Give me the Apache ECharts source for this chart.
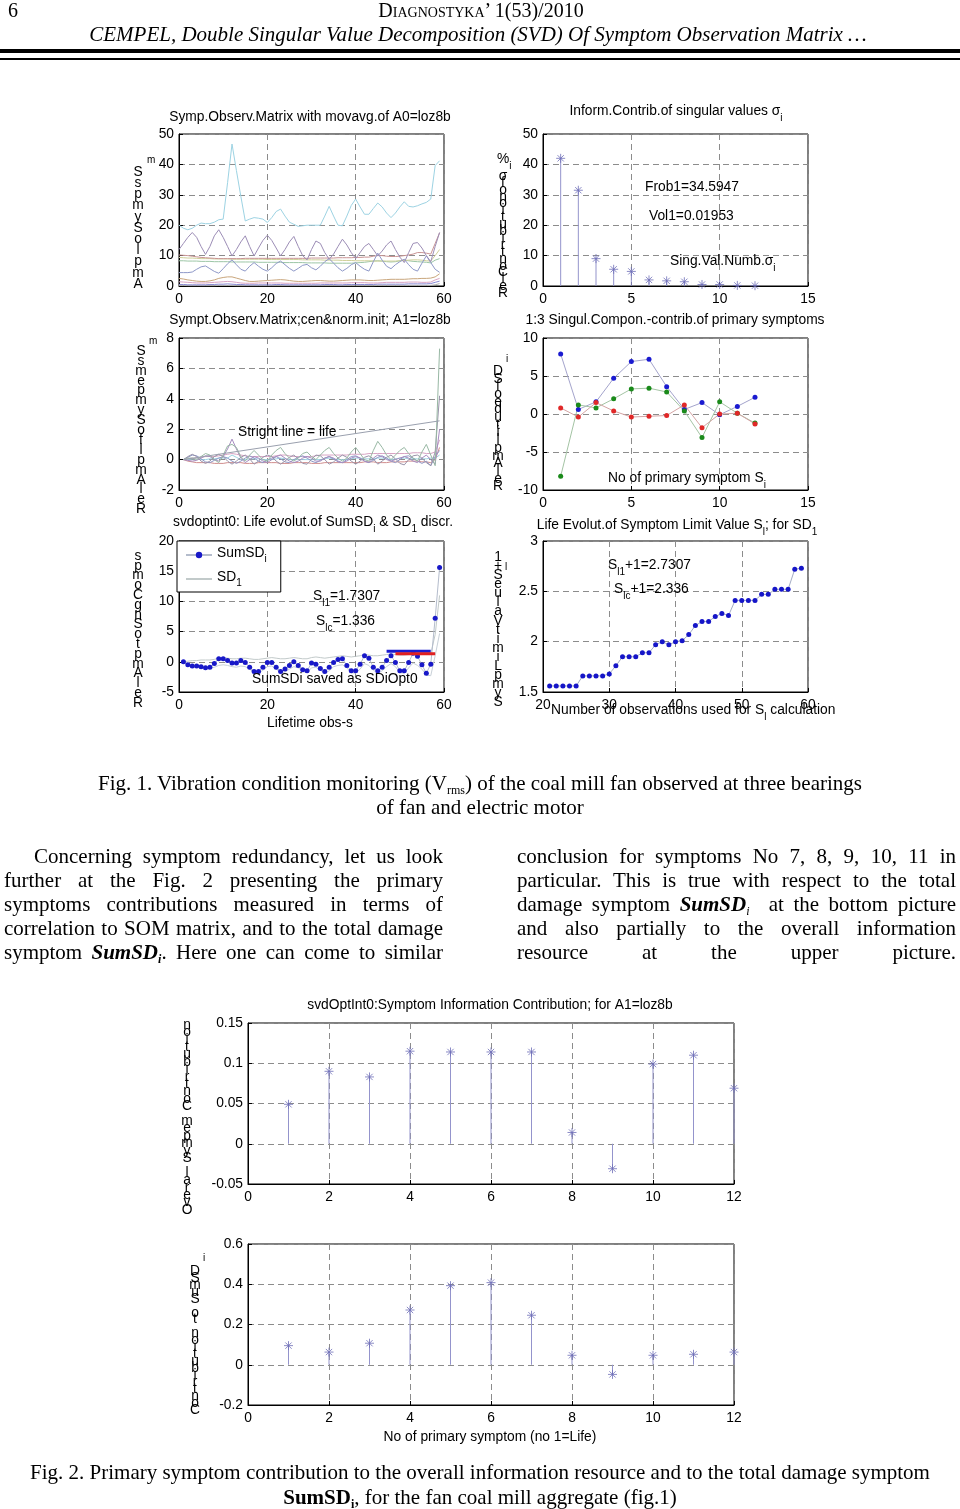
<!DOCTYPE html>
<html>
<head>
<meta charset="utf-8">
<script src="https://cdn.jsdelivr.net/npm/echarts@6/dist/echarts.min.js"></script>
<style>
  body { margin: 0; background: #fff; }
  #page { position: relative; width: 960px; height: 1509px; overflow: hidden; background: #fff; }
  #chart { position: absolute; left: 0; top: 0; width: 960px; height: 1509px; }
  .t { position: absolute; font-family: "Liberation Serif", "Times New Roman", serif; color: #000; z-index: 2; font-size: 21px; line-height: 24px; white-space: nowrap; }
  .c { text-align: center; }
  .j { text-align: justify; text-align-last: justify; white-space: normal; }
  sub { font-size: 12px; line-height: 0; vertical-align: -4px; }
  .rule { position: absolute; left: 0; width: 960px; background: #000; z-index: 2; }
</style>
</head>
<body>
<div id="page">
  <div id="chart"></div>

  <div class="t" style="left:8px;top:-2px;font-size:20px;">6</div>
  <div class="t c" style="left:0;width:962px;top:-2px;font-size:20px;font-variant:small-caps;">Diagnostyka’ 1(53)/2010</div>
  <div class="t c" style="left:0;width:956px;top:22px;font-style:italic;">CEMPEL, Double Singular Value Decomposition (SVD) Of Symptom Observation Matrix …</div>
  <div class="rule" style="top:49px;height:4px;"></div>
  <div class="rule" style="top:58px;height:2px;"></div>

  <div class="t c" style="left:0;width:960px;top:771px;">Fig. 1. Vibration condition monitoring (V<sub>rms</sub>) of the coal mill fan observed at three bearings</div>
  <div class="t c" style="left:0;width:960px;top:795px;">of fan and electric motor</div>

  <div class="t j" style="left:34px;width:409px;top:844px;">Concerning symptom redundancy, let us look</div>
  <div class="t j" style="left:4px;width:439px;top:868px;">further at the Fig. 2 presenting the primary</div>
  <div class="t j" style="left:4px;width:439px;top:892px;">symptoms contributions measured in terms of</div>
  <div class="t j" style="left:4px;width:439px;top:916px;">correlation to SOM matrix, and to the total damage</div>
  <div class="t j" style="left:4px;width:439px;top:940px;">symptom <b><i>SumSD<sub>i</sub></i></b>. Here one can come to similar</div>

  <div class="t j" style="left:517px;width:439px;top:844px;">conclusion for symptoms No 7, 8, 9, 10, 11 in</div>
  <div class="t j" style="left:517px;width:439px;top:868px;">particular. This is true with respect to the total</div>
  <div class="t j" style="left:517px;width:439px;top:892px;">damage symptom <b><i>SumSD</i></b><sub><i>i</i></sub>&nbsp; at the bottom picture</div>
  <div class="t j" style="left:517px;width:439px;top:916px;">and also partially to the overall information</div>
  <div class="t j" style="left:517px;width:439px;top:940px;">resource at the upper picture.</div>

  <div class="t c" style="left:0;width:960px;top:1460px;">Fig. 2. Primary symptom contribution to the overall information resource and to the total damage symptom</div>
  <div class="t c" style="left:0;width:960px;top:1485px;"><b>SumSD<sub>i</sub></b>, for the fan coal mill aggregate (fig.1)</div>
</div>

<script>
// ---- Fig.1 top-left: symptom observation matrix with moving average (obs 0..59)
const tlCyan   = [20,19,18.5,19,20,20.7,20.5,20.5,21,21.8, 22,34,46.7,38,29.5,21.4,22,22.5,22.3,22, 20.9,22.5,24.5,25.3,23,21,20.3,19.6,19.8,20, 20,20,20,23,26.2,23,20,19.8,23,26.5, 28.6,26,23.6,23.6,25.5,27.3,26,24,22.5,24, 26,27.7,26.2,26,26.4,27,27.5,28.6,39.6,41.2];
const tlPurple = [12,14,16,17.6,16,13,10.4,13,16.5,18.5, 16,13,9.9,12,14.5,16.5,13,9.9,12.5,15, 16.7,15,12.5,9.9,12,14.5,16.3,13,10,8.6, 12,14.8,14,11,8.8,10.5,13,15.4,13.5,11, 9,11,13,14,12,9.9,11.5,13.5,14.8,12, 9.5,7.7,11,14,14.3,12.5,10,8,13,17.6];
const tlBlue   = [4.4,4.4,4.4,4.6,5.5,6.3,6.6,5.7,4.8,4.2, 5.7,7.3,8.6,7,5.5,4.9,6.5,7.7,6.5,5.5, 4.9,6,7.4,8.2,7,5.8,4.9,5.8,6.8,7.1, 6,5.3,6.5,8,9,7.5,6,4.9,5.8,7, 7.7,6.5,5.5,4.9,8,10.8,8.5,6.5,5.7,7, 8,8.8,7,5.5,4.9,7.5,9.9,7.7,5.5,4.5];
const tlRed    = [10.2,10.1,10,9.8,9.6,9.4,9.3,9.2,9.1,9, 9,9,9,9,9,9.1,9.1,9.1,9.1,9.1, 9.1,9.1,9.1,9.1,9.1,9.1,9.1,9.1,9.1,9.1, 9.2,9.2,9.2,9.2,9.2,9.2,9.3,9.3,9.3,9.3, 9.4,9.4,9.5,9.5,9.8,10,10,9.8,9.7,9.7, 9.8,10,10.2,10.5,11,11,10.8,10.5,14,17.5];
const tlOlive  = [9.4,9.3,9.2,9.2,9.1,9,9,9,8.9,8.9, 8.9,8.9,8.8,8.8,8.8,8.8,8.8,8.8,8.8,8.8, 8.7,8.7,8.7,8.7,8.7,8.7,8.7,8.7,8.6,8.6, 8.6,8.6,8.6,8.5,8.5,8.5,8.5,8.4,8.4,8.4, 8.3,8.3,8.3,8.3,8.2,8.2,8.2,8.2,8.2,8.2, 8.3,8.4,8.5,8.6,8.6,8.5,8.3,8.2,10,12];
const tlGreen  = [8.3,8.3,8.2,8.2,8.2,8.1,8.1,8.1,8,8, 8,8,7.9,7.9,7.9,7.9,7.9,7.9,7.8,7.8, 7.8,7.8,7.8,7.8,7.7,7.7,7.7,7.7,7.7,7.6, 7.6,7.6,7.6,7.6,7.5,7.5,7.5,7.5,7.5,7.5, 7.6,7.7,7.8,8,8.2,8.3,8.2,8,7.9,8, 8.3,8.5,8.3,8.1,8,7.9,7.8,7.6,8.5,9];
const tlBrown  = [2.5,2.3,2,1.8,1.6,1.5,1.5,1.7,2,2.5, 2.8,3,3,2.6,2.2,1.8,1.5,1.5,1.6,1.7, 1.8,1.9,2,2.1,2,1.8,1.6,1.5,1.5,1.6, 1.7,1.8,1.8,1.7,1.6,1.6,1.7,1.8,1.9,2, 2,2,1.9,1.8,1.8,1.9,2,2.1,2.2,2.2, 2.2,2.2,2.3,2.4,2.4,2.5,2.5,2.6,3,4];
const tlPink   = [1.4,1.3,1.2,1.1,1,1,1,1.1,1.2,1.3, 1.4,1.5,1.4,1.2,1,0.9,0.9,0.9,1,1, 1,1,1,1,0.9,0.9,0.9,0.9,0.9,0.9, 0.9,0.9,1,1,1,1,1,1,1,1.1, 1.1,1.1,1.1,1,1,1,1.1,1.2,1.2,1.2, 1.2,1.2,1.3,1.3,1.3,1.2,1.2,1.3,2,2.5];
const tlNavy   = [0.5,0.5,0.4,0.4,0.4,0.4,0.4,0.5,0.5,0.6, 0.6,0.7,0.6,0.5,0.5,0.4,0.4,0.4,0.4,0.4, 0.4,0.4,0.5,0.5,0.4,0.4,0.4,0.4,0.4,0.4, 0.4,0.4,0.4,0.5,0.5,0.5,0.4,0.4,0.5,0.5, 0.5,0.5,0.5,0.5,0.5,0.6,0.6,0.6,0.6,0.6, 0.6,0.6,0.7,0.7,0.7,0.7,0.7,0.8,1.2,1.6];
const tlGray   = [0.2,0.2,0.1,0.1,0.1,0.1,0.1,0.1,0.1,0.2, 0.2,0.2,0.2,0.1,0.1,0.1,0.1,0.1,0.1,0.1, 0.1,0.1,0.1,0.1,0.1,0.1,0.1,0.1,0.1,0.1, 0.1,0.1,0.1,0.1,0.1,0.1,0.1,0.1,0.1,0.1, 0.1,0.1,0.1,0.1,0.1,0.2,0.2,0.2,0.2,0.2, 0.2,0.2,0.2,0.2,0.2,0.2,0.2,0.2,0.4,0.8];

// ---- Fig.1 middle-left: centred & normalised matrix (obs 1..59)
const lifeX = [1, 59];
const lifeY = [0, 2.55];
const mlGreen  = [0,0.1,0.1,0,0.2,0.4,0.3,0,-0.2,0.3, 0.9,1.0,0.8,0.2,-0.1,0.3,0.6,0.3,0,-0.1, 0.3,0.6,0.8,0.4,0.1,-0.1,0.1,0.4,0.5,0.2, 0,0.3,0.6,0.8,0.4,0.1,-0.1,0.1,0.5,0.8, 0.4,0,-0.1,0.6,1.2,0.8,0.3,0,0.3,0.6, 0.8,0.4,0.1,-0.1,0.5,1.0,0.3,-0.4,7.3];
const mlGrayP  = [0,0.2,0.35,0.2,-0.1,-0.25,-0.1,0.2,0.35,0.2, -0.1,-0.3,-0.1,0.15,0.3,0.05,-0.3,-0.1,0.15,0.3, 0.2,-0.1,-0.3,-0.1,0.15,0.3,0.05,-0.25,-0.3,0, 0.3,0.25,0,-0.3,-0.15,0.1,0.3,0.15,-0.1,-0.3, -0.1,0.15,0.25,0.05,-0.3,-0.1,0.15,0.3,0.05,-0.25, -0.35,0,0.25,0.3,0.1,-0.2,-0.4,0.5,4.2];
const mlPurple = [0,-0.05,-0.1,-0.05,0.1,0.25,0.2,0,-0.1,0.2, 0.7,1.35,0.7,0.1,-0.2,0,0.2,0.1,-0.1,-0.2, 0,0.2,0.3,0.1,-0.1,-0.2,-0.1,0.1,0.2,0.1, -0.1,-0.1,0.1,0.2,0.1,-0.1,-0.2,-0.1,0.1,0.2, 0.1,-0.1,-0.2,0.1,0.3,0.2,0,-0.1,0,0.1, 0.2,0.1,-0.1,-0.2,0.1,0.3,0,-0.3,2.0];
const mlPink   = [0,0.05,0.1,0.1,0.15,0.2,0.2,0.2,0.25,0.3, 0.35,0.4,0.35,0.3,0.25,0.2,0.2,0.2,0.2,0.2, 0.2,0.25,0.3,0.3,0.25,0.2,0.2,0.2,0.2,0.2, 0.25,0.3,0.3,0.3,0.3,0.3,0.3,0.3,0.35,0.35, 0.35,0.35,0.4,0.4,0.4,0.4,0.4,0.4,0.4,0.4, 0.4,0.4,0.45,0.45,0.45,0.4,0.4,0.5,1.3];
const mlRed    = [0,-0.1,-0.15,-0.2,-0.2,-0.2,-0.2,-0.25,-0.25,-0.25, -0.2,-0.2,-0.2,-0.2,-0.25,-0.25,-0.25,-0.2,-0.2,-0.2, -0.2,-0.2,-0.25,-0.25,-0.25,-0.2,-0.2,-0.2,-0.2,-0.25, -0.25,-0.25,-0.2,-0.2,-0.2,-0.2,-0.2,-0.2,-0.2,-0.2, -0.2,-0.15,-0.15,-0.15,-0.2,-0.2,-0.2,-0.15,-0.15,-0.15, -0.15,-0.1,-0.1,-0.1,-0.15,-0.15,-0.2,0,0.8];
const mlBlue   = [0,0.15,0.3,0.25,0.05,-0.15,-0.2,-0.05,0.1,0.2, 0.1,-0.1,-0.25,-0.1,0.1,0.25,0.1,-0.1,-0.2,-0.05, 0.1,0.2,0.05,-0.15,-0.2,0,0.15,0.25,0.1,-0.1, -0.2,-0.05,0.1,0.2,0.05,-0.15,-0.2,0,0.2,0.25, 0.1,-0.1,-0.2,-0.05,0.15,0.25,0.1,-0.1,-0.2,0, 0.2,0.25,0.1,-0.1,-0.25,-0.1,-0.4,0.2,0.6];
const mlCyan   = [0,0,0.05,0.05,0,0,0.05,0.05,0.1,0.1, 0.1,0.3,0.15,0,0,0.05,0.05,0.05,0,0, 0,0.05,0.1,0.05,0,0,0,0,0,0, 0,0,0.05,0.1,0.05,0,0,0,0.05,0.1, 0.1,0.05,0.05,0.05,0.1,0.1,0.05,0,0.05,0.1, 0.1,0.05,0.05,0.05,0.05,0.05,0.1,0.1,0.3];

// ---- Fig.1 top-right: information contribution of singular values [%]
const svNo  = [1,2,3,4,5,6,7,8,9,10,11,12];
const svPct = [42,31.5,9,5.5,4.8,2,1.7,1.4,0.5,0.5,0.2,0.1];

// ---- Fig.1 middle-right: 1:3 singular components vs primary symptom
const symNo = [1,2,3,4,5,6,7,8,9,10,11,12];
const sc1 = [7.9,0.6,1.6,4.7,6.9,7.2,3.6,0.6,1.5,-0.1,1.0,2.2];
const sc2 = [-8.2,1.2,0.8,2.0,3.3,3.4,2.9,0.4,-3.1,1.6,0.1,-1.2];
const sc3 = [0.8,-0.4,1.5,0.4,-0.4,-0.3,-0.2,1.2,-1.8,0.0,0.1,-1.3];

// ---- Fig.1 bottom-left: SumSD_i and SD_1 over lifetime (obs 1..59)
const sumSD = [0,-0.5,-0.7,-0.7,-0.8,-1.0,-0.9,-0.3,0.5,0.5, 0.2,-0.2,-0.2,0.2,-0.1,-0.9,-1.6,-1.6,-0.9,-0.1, -0.1,-0.9,-1.6,-1.2,-0.6,0,-0.6,-1.3,-1.5,-0.2, -0.4,-1.1,-1.6,-0.9,-0.1,0.4,0.5,-0.6,-1.5,-1.5, -0.4,1.0,0.6,-0.9,-1.5,-0.9,0.2,1.0,-0.1,-1.5, -1.5,-0.1,1.4,0.9,-0.5,-1.9,-0.4,7.2,15.6];
const sd1   = [0,0.1,0.2,0.2,0.3,0.3,0.3,0.4,0.6,0.7, 0.6,0.5,0.5,0.6,0.6,0.5,0.4,0.4,0.5,0.6, 0.7,0.6,0.5,0.5,0.6,0.7,0.6,0.5,0.5,0.7, 0.8,0.7,0.6,0.7,0.8,0.9,1.0,0.9,0.8,0.9, 1.0,1.2,1.1,1.0,1.0,1.1,1.2,1.3,1.2,1.1, 1.1,1.2,1.4,1.4,1.3,1.2,1.3,4.5,11.0];
const sdLow = [0,-0.3,-0.6,-0.8,-0.9,-1.0,-1.1,-0.9,-0.6,-0.5, -0.6,-0.8,-0.9,-0.7,-0.8,-1.2,-1.8,-1.9,-1.4,-0.8, -0.7,-1.2,-1.8,-1.7,-1.2,-0.8,-1.0,-1.6,-1.8,-1.0, -0.9,-1.4,-1.9,-1.5,-0.8,-0.6,-0.5,-1.0,-1.8,-1.9, -1.2,-0.3,-0.6,-1.4,-1.9,-1.5,-0.8,-0.3,-0.8,-1.8, -1.9,-1.0,-0.2,-0.6,-1.2,-2.2,-2.3,1.0,4.7];
const sl1X = [47, 57], sl1 = 1.7307;
const slcX = [49, 58], slc = 1.336;

// ---- Fig.1 bottom-right: symptom limit value S_l + 1
const nObs = [21,22,23,24,25,26,27,28,29,30,31,32,33,34,35,36,37,38,39,40,41,42,43,44,45,46,47,48,49,50,51,52,53,54,55,56,57,58,59];
const slPlus1 = [1.56,1.56,1.56,1.56,1.56, 1.66,1.66,1.66,1.66, 1.68, 1.76, 1.85,1.85,1.85, 1.89,1.89, 1.97,2.0,1.97,2.0,2.01,2.07,2.16,2.2,2.2,2.25,2.28,2.26, 2.41,2.41,2.41,2.41, 2.47,2.47, 2.52,2.52,2.52, 2.72,2.73];

// ---- Fig.2: primary symptom contributions
const infoContrib  = [0.049,0.09,0.083,0.115,0.114,0.114,0.114,0.014,-0.031,0.099,0.11,0.069];
const sumSDContrib = [0.095,0.063,0.107,0.272,0.393,0.408,0.246,0.047,-0.048,0.047,0.052,0.063];

const FONT = '"Liberation Sans", Arial, Helvetica, sans-serif';
const FS = 13.8;
const STAR = 'path://M5,0L5,10M0,5L10,5M1.5,1.5L8.5,8.5M1.5,8.5L8.5,1.5';

const grids = [
  { left: 179, top: 134, width: 265, height: 152 },
  { left: 543, top: 134, width: 265, height: 152 },
  { left: 179, top: 338, width: 265, height: 152 },
  { left: 543, top: 338, width: 265, height: 152 },
  { left: 179, top: 541, width: 265, height: 151 },
  { left: 543, top: 541, width: 265, height: 151 },
  { left: 248, top: 1023, width: 486, height: 161 },
  { left: 248, top: 1244, width: 486, height: 161 }
].map(g => Object.assign({ show: true, borderColor: '#000', borderWidth: 1, backgroundColor: '#fff', containLabel: false, outerBoundsMode: 'none' }, g));

// [xmin, xmax, xint, ymin, ymax, yint]
const ranges = [
  [0, 60, 20, 0, 50, 10],
  [0, 15, 5, 0, 50, 10],
  [0, 60, 20, -2, 8, 2],
  [0, 15, 5, -10, 10, 5],
  [0, 60, 20, -5, 20, 5],
  [20, 60, 10, 1.5, 3, 0.5],
  [0, 12, 2, -0.05, 0.15, 0.05],
  [0, 12, 2, -0.2, 0.6, 0.2]
];

function axis(gi, min, max, interval, isX) {
  return {
    gridIndex: gi, type: 'value', min: min, max: max, interval: interval,
    axisLine: { show: true, onZero: false, lineStyle: { color: '#000', width: 1 } },
    axisTick: { show: true, inside: true, length: 4, lineStyle: { color: '#000' } },
    axisLabel: { color: '#000', fontSize: FS, fontFamily: FONT, margin: isX ? 6 : 5, showMinLabel: true, showMaxLabel: true, hideOverlap: false },
    splitLine: { show: true, lineStyle: { color: '#8c8c8c', width: 1, type: [6, 4] } }
  };
}
const xAxes = ranges.map((r, i) => axis(i, r[0], r[1], r[2], true));
const yAxes = ranges.map((r, i) => axis(i, r[3], r[4], r[5], false));

function line(gi, ys, x0, color, extra) {
  return Object.assign({
    type: 'line', xAxisIndex: gi, yAxisIndex: gi,
    data: ys.map((v, i) => [x0 + i, v]),
    symbol: 'none', lineStyle: { color: color, width: 1 }, itemStyle: { color: color },
    silent: true, animation: false
  }, extra || {});
}
function pts(gi, xs, ys, lineColor, dotColor, size, name) {
  return {
    type: 'line', name: name, xAxisIndex: gi, yAxisIndex: gi,
    data: ys.map((v, i) => [xs[i], v]),
    symbol: 'circle', symbolSize: size, showSymbol: true,
    lineStyle: { color: lineColor, width: 1 }, itemStyle: { color: dotColor },
    silent: true, animation: false, z: 3
  };
}
function stems(gi, xs, ys) {
  const data = ys.map((v, i) => [xs[i], v]);
  return [
    { type: 'bar', xAxisIndex: gi, yAxisIndex: gi, data: data, barWidth: 1, itemStyle: { color: '#9494cc' }, silent: true, animation: false },
    { type: 'scatter', xAxisIndex: gi, yAxisIndex: gi, data: data, symbol: STAR, symbolSize: 9,
      itemStyle: { color: 'rgba(0,0,0,0)', borderColor: '#6e6eb8', borderWidth: 1 }, silent: true, animation: false, z: 4 }
  ];
}
function hline(gi, xs, y, color) {
  return { type: 'line', xAxisIndex: gi, yAxisIndex: gi, data: [[xs[0], y], [xs[1], y]], symbol: 'none',
    lineStyle: { color: color, width: 3 }, silent: true, animation: false, z: 5 };
}

const series = [
  // top-left
  line(0, tlGray, 0, '#b0b0b0'), line(0, tlNavy, 0, '#8a8ad4'), line(0, tlPink, 0, '#d8a4c4'),
  line(0, tlBrown, 0, '#c9a67c'), line(0, tlGreen, 0, '#9cc6a6'), line(0, tlOlive, 0, '#cfcf98'),
  line(0, tlRed, 0, '#c99494'), line(0, tlBlue, 0, '#8e98c8'), line(0, tlPurple, 0, '#9c8db6'),
  line(0, tlCyan, 0, '#9dd3e3'),
  // top-right
  ...stems(1, svNo, svPct),
  // middle-left
  line(2, mlCyan, 1, '#9dd3e3'), line(2, mlRed, 1, '#d08c8c'), line(2, mlPink, 1, '#d8a4c4'),
  line(2, mlBlue, 1, '#8e98c8'), line(2, mlPurple, 1, '#a68cc0'), line(2, mlGrayP, 1, '#9a94aa'),
  line(2, mlGreen, 1, '#98b8a4'),
  { type: 'line', xAxisIndex: 2, yAxisIndex: 2, data: lifeX.map((x, i) => [x, lifeY[i]]), symbol: 'none',
    lineStyle: { color: '#9aa0ae', width: 1 }, silent: true, animation: false },
  // middle-right
  pts(3, symNo, sc1, '#a4a4cc', '#1a1ad0', 5),
  pts(3, symNo, sc2, '#a4c4a4', '#1a8a1a', 5),
  pts(3, symNo, sc3, '#d4a4a4', '#e02828', 5),
  // bottom-left
  line(4, sdLow, 1, '#c8d0d8'),
  line(4, sd1, 1, '#c2caca', { name: 'SD1' }),
  pts(4, sumSD.map((v, i) => i + 1), sumSD, '#b4bccc', '#1818c8', 5, 'SumSD'),
  hline(4, sl1X, sl1, '#1a1ad0'),
  hline(4, slcX, slc, '#e02020'),
  // bottom-right
  pts(5, nObs, slPlus1, '#a4acc4', '#1515c8', 5),
  // Fig.2
  ...stems(6, symNo, infoContrib),
  ...stems(7, symNo, sumSDContrib)
];

// main text top-aligned, subscripts bottom-aligned in a taller line
const RICH = {
  m: { fontSize: FS, lineHeight: 16, verticalAlign: 'top', fontFamily: FONT, fill: '#000', color: '#000' },
  s: { fontSize: 10, lineHeight: 19, verticalAlign: 'bottom', fontFamily: FONT, fill: '#000', color: '#000' },
  p: { fontSize: 10, lineHeight: 8, verticalAlign: 'top', fontFamily: FONT, fill: '#000', color: '#000' }
};
function txt(x, y, text, align) {
  return { type: 'text', x: x, y: y - 8, z: 100, silent: true,
    style: { text: text, fill: '#000', fontSize: FS, fontFamily: FONT,
      align: align || 'left', textAlign: align || 'left', verticalAlign: 'top', textVerticalAlign: 'top', rich: RICH } };
}
function stack(x, yFirst, chars, step) {
  return { type: 'text', x: x, y: yFirst - step / 2, z: 100, silent: true,
    style: { text: chars.join('\n'), fill: '#000', fontSize: FS, fontFamily: FONT, lineHeight: step,
      align: 'center', textAlign: 'center', verticalAlign: 'top', textVerticalAlign: 'top' } };
}

const graphics = [
  // titles
  txt(310, 118, '{m|Symp.Observ.Matrix with movavg.of A0=loz8b}', 'center'),
  txt(676, 112, '{m|Inform.Contrib.of singular values σ}{s|i}', 'center'),
  txt(310, 321, '{m|Sympt.Observ.Matrix;cen&norm.init; A1=loz8b}', 'center'),
  txt(675, 321, '{m|1:3 Singul.Compon.-contrib.of primary symptoms}', 'center'),
  txt(313, 523, '{m|svdoptint0: Life evolut.of SumSD}{s|i}{m| & SD}{s|1}{m| discr.}', 'center'),
  txt(677, 526, '{m|Life Evolut.of Symptom Limit Value S}{s|l}{m|; for SD}{s|1}', 'center'),
  txt(310, 724, '{m|Lifetime obs-s}', 'center'),
  txt(490, 1006, '{m|svdOptInt0:Symptom Information Contribution; for A1=loz8b}', 'center'),
  txt(490, 1438, '{m|No of primary symptom (no 1=Life)}', 'center'),
  // annotations
  txt(645, 188, '{m|Frob1=34.5947}'),
  txt(649, 217, '{m|Vol1=0.01953}'),
  txt(670, 262, '{m|Sing.Val.Numb.σ}{s|i}'),
  txt(238, 433, '{m|Stright line = life}'),
  txt(608, 479, '{m|No of primary symptom S}{s|i}'),
  txt(313, 597, '{m|S}{s|l1}{m|=1.7307}'),
  txt(316, 622, '{m|S}{s|lc}{m|=1.336}'),
  txt(252, 680, '{m|SumSDi saved as SDiOpt0}'),
  txt(608, 566, '{m|S}{s|l1}{m|+1=2.7307}'),
  txt(614, 590, '{m|S}{s|lc}{m|+1=2.336}'),
  txt(551, 711, '{m|Number of observations used for S}{s|l}{m| calculation}'),
  // garbled vertical y-labels, as exported
  stack(138, 172, ['S','s','p','m','y','S','o','l','p','m','A'], 11.2),
  txt(147, 163, '{p|m}'),
  stack(141, 351, ['S','s','m','e','p','m','y','S','o','f','l','p','m','A','l','e','R'], 9.9),
  txt(149, 344, '{p|m}'),
  stack(138, 556, ['s','p','m','o','C','g','n','S','o','t','p','m','A','l','e','R'], 9.8),
  txt(497, 160, '{m|%}{s|i}'),
  stack(503, 176, ['σ','f','o','n','o','i','t','u','b','i','r','t','n','o','C','l','e','R'], 6.9),
  txt(506, 362, '{p|i}'),
  stack(498, 371, ['D','S','f','o','e','d','u','t','i','l','p','m','A','l','e','R'], 7.7),
  stack(498, 557, ['1','+','S','e','u','l','a','V','t','i','m','i','L','p','m','y','S'], 9.1),
  txt(505, 570, '{p|l}'),
  stack(187, 1025, ['n','o','i','t','u','b','i','r','t','n','o','C',' ','m','e','p','m','y','S',' ','l','a','r','e','v','O'], 7.4),
  txt(203, 1261, '{p|i}'),
  stack(195, 1271, ['D','S','m','u','S',' ','o','t',' ','n','o','i','t','u','b','i','r','t','n','o','C'], 6.95)
];

const chart = echarts.init(document.getElementById('chart'), null, { renderer: 'canvas' });
chart.setOption({
  backgroundColor: '#fff',
  animation: false,
  grid: grids,
  xAxis: xAxes,
  yAxis: yAxes,
  legend: {
    data: [{ name: 'SumSD' }, { name: 'SD1', itemStyle: { opacity: 0 } }],
    left: 177, top: 541, orient: 'vertical',
    backgroundColor: '#fff', borderColor: '#000', borderWidth: 1, borderRadius: 0,
    padding: [5, 14, 4, 8], itemWidth: 26, itemHeight: 8, itemGap: 6, selectedMode: false,
    formatter: n => n === 'SumSD' ? '{m|SumSD}{s|i}' : '{m|SD}{s|1}',
    textStyle: {
      color: '#000', fontSize: FS, fontFamily: FONT,
      rich: {
        m: { fontSize: FS, lineHeight: 14, verticalAlign: 'top', fontFamily: FONT, color: '#000' },
        s: { fontSize: 10, lineHeight: 18, verticalAlign: 'bottom', fontFamily: FONT, color: '#000' }
      }
    }
  },
  graphic: graphics,
  series: series
});
</script>
</body>
</html>
